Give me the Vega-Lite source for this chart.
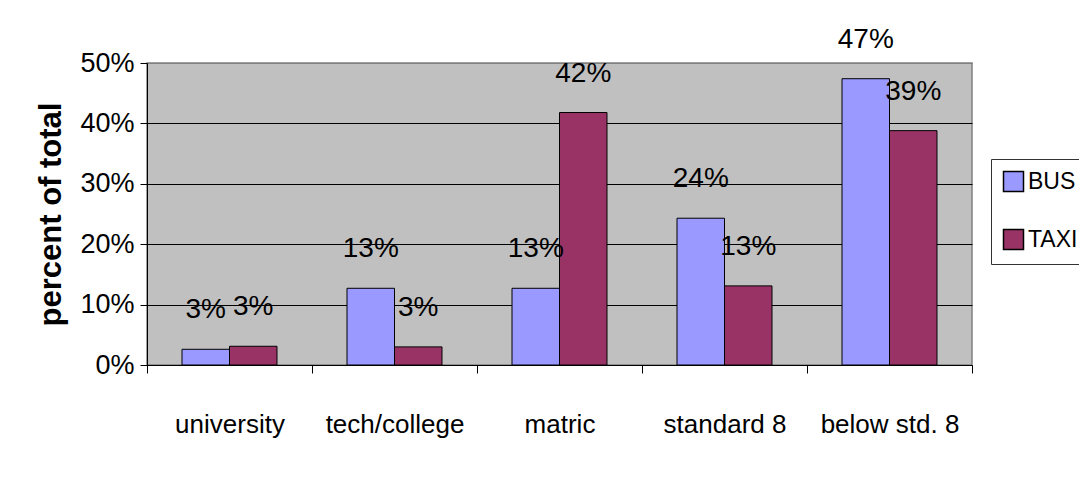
{
  "$schema": "https://vega.github.io/schema/vega-lite/v6.json",
  "width": 825,
  "height": 302,
  "autosize": {"type": "none"},
  "padding": {"left": 147, "top": 63, "right": 107, "bottom": 116},
  "background": "white",
  "config": {
    "font": "Liberation Sans",
    "view": {"fill": "#C0C0C0", "stroke": "#808080", "strokeWidth": 1.5}
  },
  "data": {
    "values": [
      {"level": "university", "mode": "BUS", "share": 0.026},
      {"level": "university", "mode": "TAXI", "share": 0.031},
      {"level": "tech/college", "mode": "BUS", "share": 0.127},
      {"level": "tech/college", "mode": "TAXI", "share": 0.030},
      {"level": "matric", "mode": "BUS", "share": 0.127},
      {"level": "matric", "mode": "TAXI", "share": 0.418},
      {"level": "standard 8", "mode": "BUS", "share": 0.243},
      {"level": "standard 8", "mode": "TAXI", "share": 0.131},
      {"level": "below std. 8", "mode": "BUS", "share": 0.474},
      {"level": "below std. 8", "mode": "TAXI", "share": 0.388}
    ]
  },
  "encoding": {
    "x": {
      "field": "level",
      "type": "nominal",
      "sort": ["university", "tech/college", "matric", "standard 8", "below std. 8"],
      "scale": {"paddingInner": 0, "paddingOuter": 0},
      "axis": {
        "title": null,
        "labelAngle": 0,
        "tickBand": "extent",
        "tickSize": 8,
        "tickColor": "black",
        "domainColor": "black",
        "grid": false,
        "labelFontSize": 26,
        "labelColor": "black",
        "labelPadding": 38
      }
    },
    "xOffset": {
      "field": "mode",
      "type": "nominal",
      "sort": ["BUS", "TAXI"],
      "scale": {"paddingInner": 0, "paddingOuter": 0.737}
    },
    "y": {
      "field": "share",
      "type": "quantitative",
      "scale": {"domain": [0, 0.5], "nice": false},
      "axis": {
        "values": [0, 0.1, 0.2, 0.3, 0.4, 0.5],
        "format": ".0%",
        "title": "percent of total",
        "titleFontSize": 31,
        "titleFontWeight": "bold",
        "titleColor": "black",
        "titlePadding": 12,
        "labelFontSize": 27,
        "labelColor": "black",
        "labelPadding": 6,
        "tickSize": 7,
        "tickColor": "black",
        "domainColor": "black",
        "gridColor": {"condition": {"test": "datum.value === 0.5", "value": "#808080"}, "value": "black"},
        "gridOpacity": 1
      }
    }
  },
  "layer": [
    {
      "mark": {"type": "bar", "stroke": "black", "strokeWidth": 1},
      "encoding": {
        "color": {
          "field": "mode",
          "type": "nominal",
          "scale": {"domain": ["BUS", "TAXI"], "range": ["#9999FF", "#993366"]},
          "legend": {
            "title": null,
            "orient": "none",
            "legendX": 844,
            "legendY": 96,
            "padding": 11,
            "fillColor": "white",
            "strokeColor": "#333333",
            "symbolType": "square",
            "symbolSize": 400,
            "symbolStrokeColor": "black",
            "symbolStrokeWidth": 1.5,
            "symbolOpacity": 1,
            "labelFontSize": 23,
            "labelColor": "black",
            "labelOffset": 3,
            "rowPadding": 31
          }
        }
      }
    },
    {
      "mark": {"type": "text", "baseline": "alphabetic", "dy": -31, "fontSize": 28, "color": "black"},
      "encoding": {
        "text": {"field": "share", "type": "quantitative", "format": ".0%"}
      }
    }
  ]
}
